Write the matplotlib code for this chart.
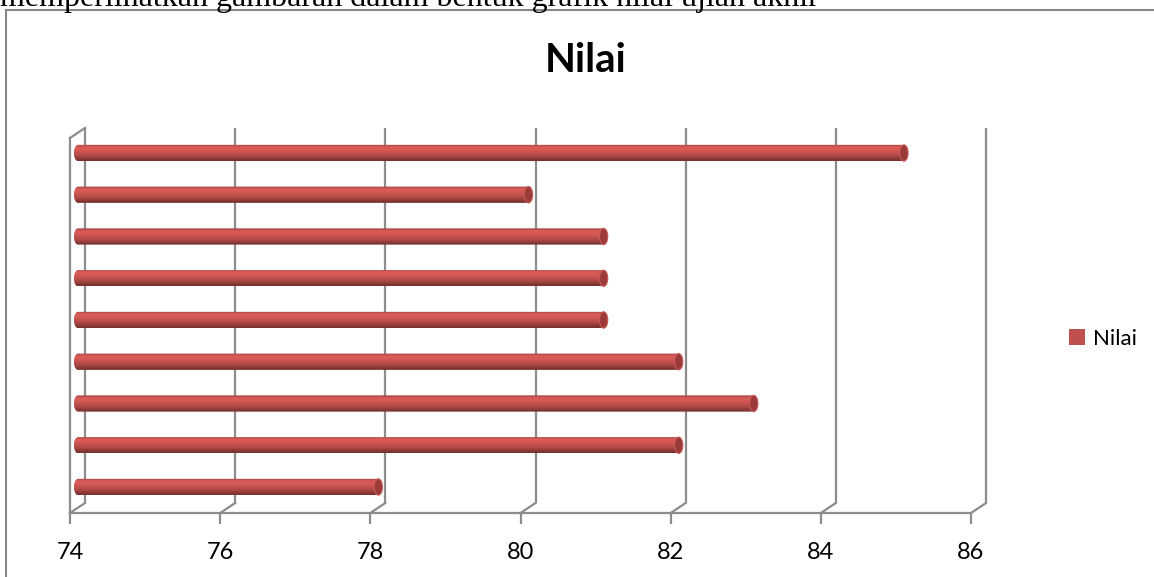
import numpy as np
import matplotlib
matplotlib.use("Agg")
import matplotlib.pyplot as plt
from matplotlib.patches import Ellipse, Polygon, Patch
from matplotlib.lines import Line2D
from matplotlib.colors import to_rgb

# data (bottom bar first)
categories = list(range(9))
nilai = [78, 82, 83, 82, 81, 81, 81, 80, 85]
xticks = [74, 76, 78, 80, 82, 84, 86]
title = "Nilai"
caption = "memperlihatkan gambaran dalam bentuk grafik nilai ujian akhir"

W, H = 1154, 577
plt.rcParams['font.family'] = ['Lato', 'DejaVu Sans']

fig = plt.figure(figsize=(W / 100, H / 100), dpi=100)
# front plane of the 3d box
ax = fig.add_axes([70 / W, 64 / H, 901 / W, 375 / H])
xlo, xhi = 74, 86
ylo, yhi = -0.479, 8.503
grid_col = '#8c8c8c'

# depth offsets in data units (back wall and bar plane)
dxb, dyb = 0.2, 0.24
dxm, dym = 0.107, 0.144
bar_h = 0.39
cap_w = 0.11

# back wall gridlines + floor diagonals + top-left diagonal
for v in xticks:
    ax.plot([v + dxb, v + dxb], [ylo + dyb, yhi + dyb], color=grid_col, lw=1.6,
            clip_on=False, zorder=1, solid_capstyle='butt')
    ax.plot([v, v + dxb], [ylo, ylo + dyb], color=grid_col, lw=1.6,
            clip_on=False, zorder=1)
ax.plot([xlo, xlo + dxb], [yhi, yhi + dyb], color=grid_col, lw=1.6,
        clip_on=False, zorder=1)

# cylinder gradient (top -> bottom)
base = np.array(to_rgb('#c0504d'))
prof = np.array([0.85, 1.10, 1.14, 1.12, 1.08, 1.03, 0.97, 0.90, 0.82, 0.72, 0.62])
grad = np.clip(base[None, :] * prof[:, None], 0, 1)[:, None, :]

for i, v in zip(categories, nilai):
    yc = i + dym
    x0 = xlo + dxm
    x1 = v + dxm
    im = ax.imshow(grad, extent=(x0 - cap_w / 2, x1, yc - bar_h / 2, yc + bar_h / 2),
                   aspect='auto', interpolation='bicubic', zorder=3, origin='upper')
    t = np.linspace(np.pi / 2, 3 * np.pi / 2, 30)
    pts = np.column_stack([x0 + cap_w / 2 * np.cos(t), yc + bar_h / 2 * np.sin(t)])
    pts = np.vstack([pts, [[x1, yc - bar_h / 2], [x1, yc + bar_h / 2]]])
    clip = Polygon(pts, closed=True, transform=ax.transData)
    im.set_clip_path(clip)
    ax.add_patch(Ellipse((x1, yc), cap_w, bar_h, facecolor='#9a3b39',
                         edgecolor='#c85a57', lw=0.8, zorder=4))

ax.set_xlim(xlo, xhi)
ax.set_ylim(ylo, yhi)
ax.set_xticks(xticks)
ax.set_xticklabels([str(v) for v in xticks])
ax.set_yticks([])
for s in ['top', 'right']:
    ax.spines[s].set_visible(False)
for s in ['left', 'bottom']:
    ax.spines[s].set_color(grid_col)
    ax.spines[s].set_linewidth(1.6)
ax.tick_params(axis='x', direction='out', length=8, width=1.6, color=grid_col,
               labelsize=17, pad=13)
ax.patch.set_alpha(0)

fig.text(586 / W, 1 - 60 / H, title, ha='center', va='center',
         fontsize=29, fontweight='bold')

fig.legend(handles=[Patch(facecolor='#c0504d', label='Nilai')],
           loc='center left', bbox_to_anchor=(1049 / W, 1 - 339 / H),
           frameon=False, fontsize=16, handlelength=0.7, handleheight=0.7,
           handletextpad=0.4)

# outer chart frame
fig.add_artist(Line2D([6 / W, 6 / W], [0, 1 - 10 / H], color='#868686', lw=1.5))
fig.add_artist(Line2D([6 / W, 1], [1 - 10 / H, 1 - 10 / H], color='#868686', lw=1.5))

fig.text(0, 1 - 6 / H, caption, ha='left', va='baseline',
         family=['Liberation Serif'], fontsize=23)

fig.savefig('out.png', dpi=100)
